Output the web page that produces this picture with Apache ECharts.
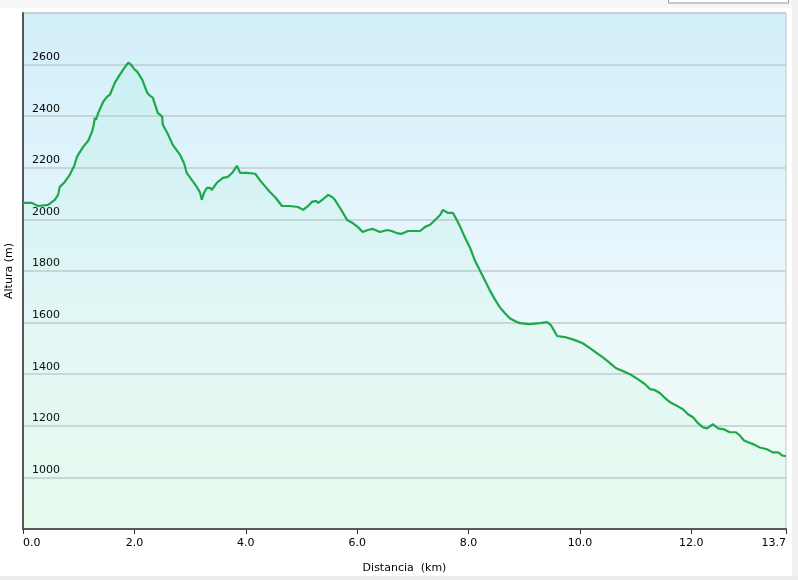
<!DOCTYPE html>
<html>
<head>
<meta charset="utf-8">
<script src="https://cdn.jsdelivr.net/npm/echarts@6/dist/echarts.min.js"></script>
<style>
  html, body { margin: 0; padding: 0; background: #fff; }
  #perfil { width: 798px; height: 580px; }
</style>
</head>
<body>
<div id="perfil"></div>
<script>
const distancia = [
  0.00, 0.16, 0.27, 0.45, 0.57, 0.63, 0.66, 0.75, 0.84, 0.92, 0.97, 1.08, 1.17, 1.24, 1.27, 1.29,
  1.31, 1.35, 1.44, 1.51, 1.56, 1.65, 1.74, 1.81, 1.89, 1.94, 1.99, 2.05, 2.14, 2.23, 2.28, 2.33,
  2.42, 2.46, 2.50, 2.51, 2.59, 2.69, 2.82, 2.89, 2.94, 3.03, 3.12, 3.18, 3.21, 3.25, 3.30, 3.36,
  3.39, 3.48, 3.59, 3.68, 3.77, 3.84, 3.90, 4.02, 4.17, 4.25, 4.34, 4.43, 4.54, 4.65, 4.79, 4.94,
  5.03, 5.12, 5.19, 5.26, 5.30, 5.39, 5.48, 5.55, 5.60, 5.69, 5.82, 5.92, 6.01, 6.10, 6.19, 6.28,
  6.41, 6.54, 6.62, 6.71, 6.80, 6.91, 7.02, 7.13, 7.22, 7.31, 7.40, 7.49, 7.54, 7.63, 7.72, 7.79,
  7.85, 7.94, 8.03, 8.11, 8.20, 8.29, 8.38, 8.47, 8.56, 8.65, 8.74, 8.83, 8.92, 9.10, 9.28, 9.41,
  9.48, 9.53, 9.59, 9.73, 9.91, 10.05, 10.18, 10.31, 10.43, 10.54, 10.65, 10.77, 10.90, 11.04,
  11.17, 11.26, 11.35, 11.44, 11.53, 11.62, 11.72, 11.85, 11.94, 12.03, 12.12, 12.21, 12.28, 12.39,
  12.48, 12.59, 12.69, 12.80, 12.87, 12.94, 13.02, 13.12, 13.23, 13.36, 13.46, 13.56, 13.63, 13.70
]
const altura = [
  2064, 2064, 2052, 2056, 2076, 2095, 2126, 2145, 2173, 2208, 2243, 2281, 2305, 2340, 2367, 2394,
  2386, 2413, 2456, 2476, 2483, 2530, 2561, 2584, 2608, 2600, 2584, 2573, 2542, 2491, 2479, 2472,
  2413, 2406, 2398, 2367, 2336, 2289, 2250, 2219, 2180, 2153, 2126, 2103, 2076, 2103, 2122, 2122,
  2114, 2142, 2161, 2165, 2184, 2208, 2180, 2180, 2177, 2153, 2130, 2107, 2083, 2052, 2052, 2048,
  2037, 2052, 2068, 2072, 2064, 2079, 2095, 2087, 2076, 2045, 1998, 1986, 1971, 1951, 1959, 1963,
  1951, 1959, 1955, 1947, 1944, 1955, 1955, 1955, 1971, 1979, 1998, 2017, 2037, 2025, 2025, 1998,
  1971, 1928, 1889, 1843, 1804, 1765, 1726, 1691, 1660, 1637, 1617, 1606, 1598, 1594, 1598, 1602,
  1590, 1571, 1548, 1544, 1532, 1520, 1501, 1481, 1462, 1443, 1423, 1412, 1400, 1381,
  1361, 1342, 1338, 1326, 1307, 1291, 1280, 1264, 1245, 1233, 1210, 1194, 1190, 1206,
  1190, 1186, 1175, 1175, 1163, 1144, 1136, 1128, 1116, 1109, 1097, 1097, 1085, 1082
]
// etiquetas del eje y que se muestran
const alturaEtiquetas = [1000, 1200, 1400, 1600, 1800, 2000, 2200, 2400, 2600]

const chart = echarts.init(document.getElementById('perfil'), null, { renderer: 'canvas' })

let option = {
  animation: false,
  textStyle: { fontFamily: 'DejaVu Sans' },
  graphic: [
    // franjas grises de la ventana
    { type: 'rect', shape: { x: 0, y: 0, width: 798, height: 8 }, style: { fill: '#f6f6f6' }, z: -10 },
    { type: 'rect', shape: { x: 668.5, y: -2, width: 120, height: 5 }, style: { fill: '#fff', stroke: '#999', lineWidth: 1 }, z: -9 },
    { type: 'rect', shape: { x: 792, y: 0, width: 6, height: 580 }, style: { fill: '#f1f1f1' }, z: -10 },
    { type: 'rect', shape: { x: 0, y: 576, width: 798, height: 4 }, style: { fill: '#ececec' }, z: -10 }
  ],
  grid: {
    left: 23,
    right: 12,
    top: 13,
    bottom: 51,
    outerBoundsMode: 'none',
    containLabel: false,
    show: true,
    borderColor: '#c4c4c4',
    borderWidth: 1,
    backgroundColor: {
      type: 'linear', x: 0, y: 0, x2: 0, y2: 1,
      colorStops: [
        { offset: 0, color: '#d2effa' },
        { offset: 0.6, color: '#edf8fc' },
        { offset: 1, color: '#eefcf1' }
      ]
    }
  },
  xAxis: {
    type: 'value',
    min: 0,
    max: 13.7,
    interval: 2,
    name: 'Distancia  (km)',
    nameLocation: 'middle',
    nameGap: 34,
    nameTextStyle: { color: '#000', fontSize: 11 },
    axisLine: { show: true, onZero: false, lineStyle: { color: '#555', width: 2 } },
    axisTick: { show: true, length: 5, lineStyle: { color: '#333', width: 1 } },
    axisLabel: {
      color: '#000',
      fontSize: 11,
      margin: 9,
      alignMinLabel: 'left',
      alignMaxLabel: 'right',
      formatter: v => v.toFixed(1)
    },
    splitLine: { show: false }
  },
  yAxis: {
    type: 'value',
    min: 800,
    max: 2800,
    interval: 200,
    name: 'Altura (m)',
    nameLocation: 'middle',
    nameGap: 4,
    nameTextStyle: { color: '#000', fontSize: 11 },
    axisLine: { show: true, onZero: false, lineStyle: { color: '#555', width: 2 } },
    axisTick: { show: false },
    axisLabel: {
      inside: true,
      color: '#000',
      fontSize: 11,
      margin: 9,
      verticalAlign: 'bottom',
      padding: [0, 0, 2, 0],
      formatter: v => alturaEtiquetas.includes(v) ? String(v) : ''
    },
    splitLine: { show: true, lineStyle: { color: '#c2cbd0', width: 1.5 } }
  },
  series: [
    {
      name: 'Altura',
      type: 'line',
      data: distancia.map((d, i) => [d, altura[i]]),
      showSymbol: false,
      symbol: 'none',
      lineStyle: { color: '#1ca84b', width: 2.2 },
      areaStyle: {
        origin: 'start',
        color: {
          type: 'linear', x: 0, y: 0, x2: 0, y2: 1,
          colorStops: [
            { offset: 0, color: 'rgba(90, 230, 160, 0.13)' },
            { offset: 1, color: 'rgba(90, 230, 160, 0.08)' }
          ]
        }
      },
      z: 3
    }
  ]
}
chart.setOption(option)
</script>
</body>
</html>
